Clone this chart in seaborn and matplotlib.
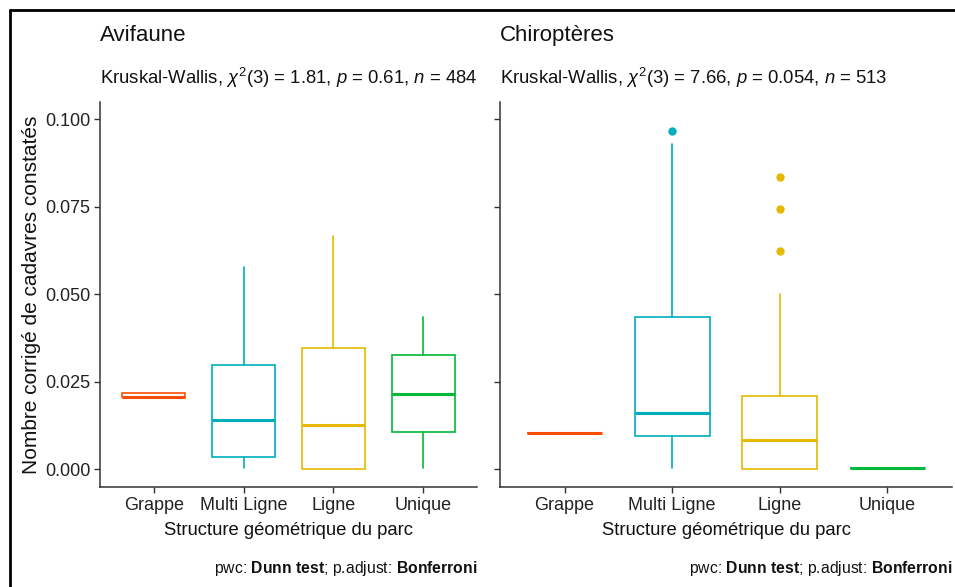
import matplotlib
matplotlib.use("Agg")
import matplotlib.pyplot as plt
from matplotlib.lines import Line2D
from matplotlib import font_manager
import seaborn as sns

# ---------------- data ----------------
categories = ["Grappe", "Multi Ligne", "Ligne", "Unique"]
colors = ["#FC4E07", "#00AFBB", "#E7B800", "#00BA38"]

avi_whislo = [0.0205, 0.0002, 0.0000, 0.0002]
avi_q1     = [0.0205, 0.0034, 0.0000, 0.0107]
avi_med    = [0.0207, 0.0140, 0.0125, 0.0216]
avi_q3     = [0.0219, 0.0299, 0.0346, 0.0326]
avi_whishi = [0.0219, 0.0578, 0.0666, 0.0435]
avi_out    = [[], [], [], []]

chi_whislo = [0.0102, 0.0002, 0.0000, 0.0002]
chi_q1     = [0.0102, 0.0095, 0.0000, 0.0002]
chi_med    = [0.0102, 0.0159, 0.0083, 0.0002]
chi_q3     = [0.0102, 0.0434, 0.0208, 0.0002]
chi_whishi = [0.0102, 0.0929, 0.0500, 0.0002]
chi_out    = [[], [0.0965], [0.0834, 0.0742, 0.0623], []]

yticks = [0.000, 0.025, 0.050, 0.075, 0.100]
ytick_labels = ["0.000", "0.025", "0.050", "0.075", "0.100"]

titles = ["Avifaune", "Chiroptères"]
subtitles = [
    r"Kruskal-Wallis, $\chi^{2}$(3) = 1.81, $\mathit{p}$ = 0.61, $\mathit{n}$ = 484",
    r"Kruskal-Wallis, $\chi^{2}$(3) = 7.66, $\mathit{p}$ = 0.054, $\mathit{n}$ = 513",
]
caption = r"pwc: $\mathbf{Dunn\ test}$; p.adjust: $\mathbf{Bonferroni}$"
xlabel = "Structure géométrique du parc"
ylabel = "Nombre corrigé de cadavres constatés"

# ---------------- style ----------------
sns.set_theme(style="ticks")
names = {f.name for f in font_manager.fontManager.ttflist}
fam = "Liberation Sans Narrow" if "Liberation Sans Narrow" in names else "Liberation Sans"
plt.rcParams["font.family"] = [fam, "DejaVu Sans"]
plt.rcParams["mathtext.fontset"] = "custom"
plt.rcParams["mathtext.rm"] = fam
plt.rcParams["mathtext.it"] = fam + ":italic"
plt.rcParams["mathtext.bf"] = fam + ":bold"

W, H = 955, 587
fig = plt.figure(figsize=(W / 100, H / 100), dpi=100)
fig.patch.set_facecolor("white")

def fx(px):
    return px / W

def fy(py):
    return 1 - py / H

axes_px = [(100, 477), (500, 952)]
top_px, bot_px = 102, 487

panels = [
    (avi_whislo, avi_q1, avi_med, avi_q3, avi_whishi, avi_out),
    (chi_whislo, chi_q1, chi_med, chi_q3, chi_whishi, chi_out),
]

for i, ((l, r), stats) in enumerate(zip(axes_px, panels)):
    ax = fig.add_axes([fx(l), fy(bot_px), fx(r - l), (bot_px - top_px) / H])
    wl, q1, md, q3, wh, out = stats
    for j, cat in enumerate(categories):
        s = [dict(whislo=wl[j], q1=q1[j], med=md[j], q3=q3[j], whishi=wh[j],
                  fliers=out[j], label=cat)]
        c = colors[j]
        ax.bxp(s, positions=[j], widths=0.7, showcaps=False, patch_artist=True,
               boxprops=dict(facecolor="white", edgecolor=c, linewidth=1.2),
               medianprops=dict(color=c, linewidth=2.2, solid_capstyle="butt"),
               whiskerprops=dict(color=c, linewidth=1.2),
               flierprops=dict(marker="o", markerfacecolor=c, markeredgecolor=c,
                               markersize=5, linestyle="none"))
    ax.set_xlim(-0.6, 3.6)
    ax.set_ylim(-0.0051, 0.1049)
    ax.set_xticks(range(len(categories)))
    ax.set_xticklabels(categories, fontsize=13, color="#222222")
    ax.set_yticks(yticks)
    if i == 0:
        ax.set_yticklabels(ytick_labels, fontsize=13, color="#222222")
        ax.set_ylabel(ylabel, fontsize=15, color="#111111", labelpad=3)
    else:
        ax.set_yticklabels([])
    ax.set_xlabel(xlabel, fontsize=13.3, color="#111111", labelpad=6)
    ax.tick_params(axis="both", length=4, width=1, color="#333333", pad=3)
    for sp in ["top", "right"]:
        ax.spines[sp].set_visible(False)
    for sp in ["left", "bottom"]:
        ax.spines[sp].set_color("#333333")
        ax.spines[sp].set_linewidth(1.1)
    ax.set_facecolor("white")

    fig.text(fx(l), fy(41), titles[i], fontsize=16, ha="left", va="baseline", color="#111111")
    fig.text(fx(l), fy(84), subtitles[i], fontsize=13.3, ha="left", va="baseline", color="#111111")
    fig.text(fx(r), fy(573), caption, fontsize=11.3, ha="right", va="baseline", color="#111111")

# figure border (left and top)
fig.add_artist(Line2D([fx(10), fx(10)], [fy(10), 0], transform=fig.transFigure,
                      color="black", linewidth=2))
fig.add_artist(Line2D([fx(10), 1], [fy(10), fy(10)], transform=fig.transFigure,
                      color="black", linewidth=2))

fig.savefig("out.png", dpi=100, facecolor="white")
